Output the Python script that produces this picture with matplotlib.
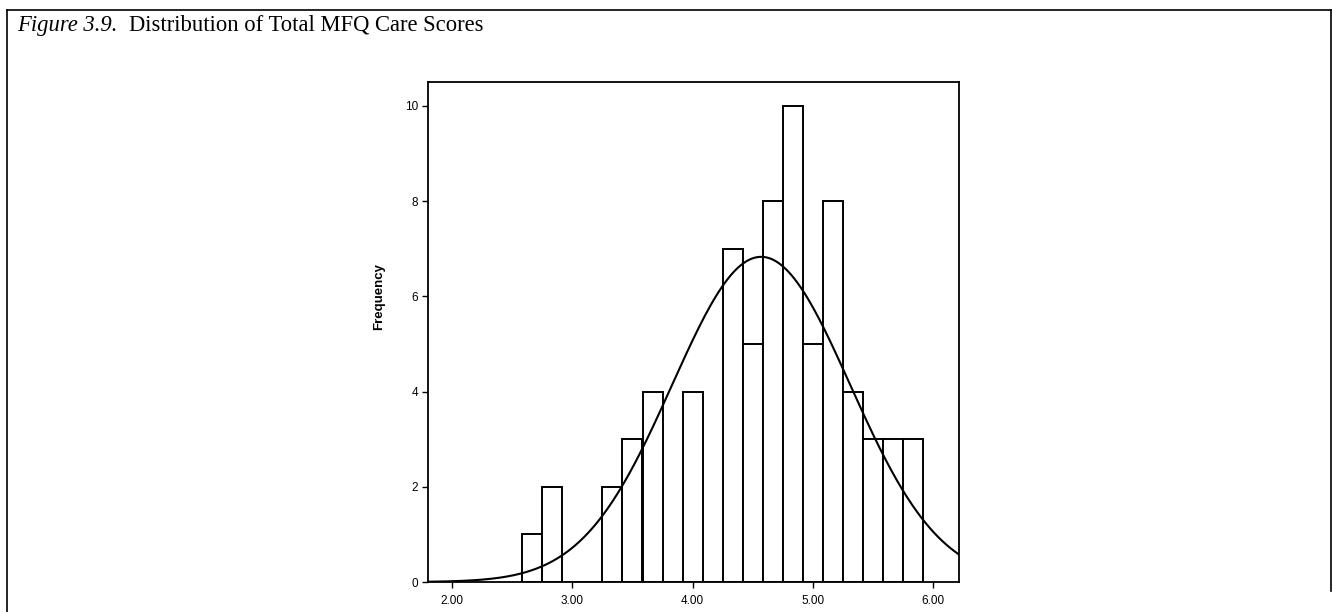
import numpy as np
import matplotlib
matplotlib.use("Agg")
import matplotlib.pyplot as plt
from matplotlib.lines import Line2D

# histogram bins (care score, width 1/6) and their counts
bin_centers = [2.667, 2.833, 3.000, 3.167, 3.333, 3.500, 3.667, 3.833, 4.000, 4.167,
               4.333, 4.500, 4.667, 4.833, 5.000, 5.167, 5.333, 5.500, 5.667, 5.833]
counts = [1, 2, 0, 0, 2, 3, 4, 0, 4, 0,
          7, 5, 8, 10, 5, 8, 4, 3, 3, 3]
bin_width = 1 / 6

# fitted normal curve
curve_mean = 4.57
curve_sd = 0.74
curve_n = 76

x_ticks = [2, 3, 4, 5, 6]
x_labels = ["2.00", "3.00", "4.00", "5.00", "6.00"]
y_ticks = [0, 2, 4, 6, 8, 10]

title_italic = "Figure 3.9."
title_rest = "Distribution of Total MFQ Care Scores"

fig = plt.figure(figsize=(13.32, 6.12), dpi=100)

# outer table-cell border
for xs, ys in [([0.005, 0.999], [0.984, 0.984]),
               ([0.005, 0.005], [0.0, 0.984]),
               ([0.999, 0.999], [0.035, 0.984])]:
    fig.add_artist(Line2D(xs, ys, color="black", lw=1.2, transform=fig.transFigure))

# title: italic part + roman part
serif = ["Liberation Serif", "DejaVu Serif"]
t1 = fig.text(0.013, 0.95, title_italic, fontsize=16.3, family=serif, style="italic",
              va="baseline")
fig.canvas.draw()
bb = t1.get_window_extent()
fig.text((bb.x1 + 11) / fig.bbox.width, 0.95, title_rest, fontsize=16.3, family=serif,
         va="baseline")

ax = fig.add_axes([0.3213, 0.049, 0.3986, 0.817])
ax.bar(bin_centers, counts, width=bin_width, color="white", edgecolor="black",
       linewidth=1.4, zorder=2)

xs = np.linspace(1.80, 6.214, 400)
ys = curve_n * bin_width * np.exp(-0.5 * ((xs - curve_mean) / curve_sd) ** 2) / (curve_sd * np.sqrt(2 * np.pi))
ax.plot(xs, ys, color="black", lw=1.5, zorder=3)

ax.set_xlim(1.80, 6.214)
ax.set_ylim(0, 10.5)
ax.set_xticks(x_ticks)
ax.set_xticklabels(x_labels)
ax.set_yticks(y_ticks)
ax.tick_params(direction="out", length=4, width=1, labelsize=8.5)
ax.tick_params(axis="x", pad=5)
ax.tick_params(axis="y", pad=3)
for lab in ax.get_xticklabels() + ax.get_yticklabels():
    lab.set_family(["Liberation Sans", "DejaVu Sans"])
for sp in ax.spines.values():
    sp.set_linewidth(1.3)

ax.set_ylabel("Frequency", fontsize=9.5, fontweight="bold",
              family=["Liberation Sans", "DejaVu Sans"])
ax.yaxis.set_label_coords(-0.08, 0.572)

fig.savefig("out.png", dpi=100)
